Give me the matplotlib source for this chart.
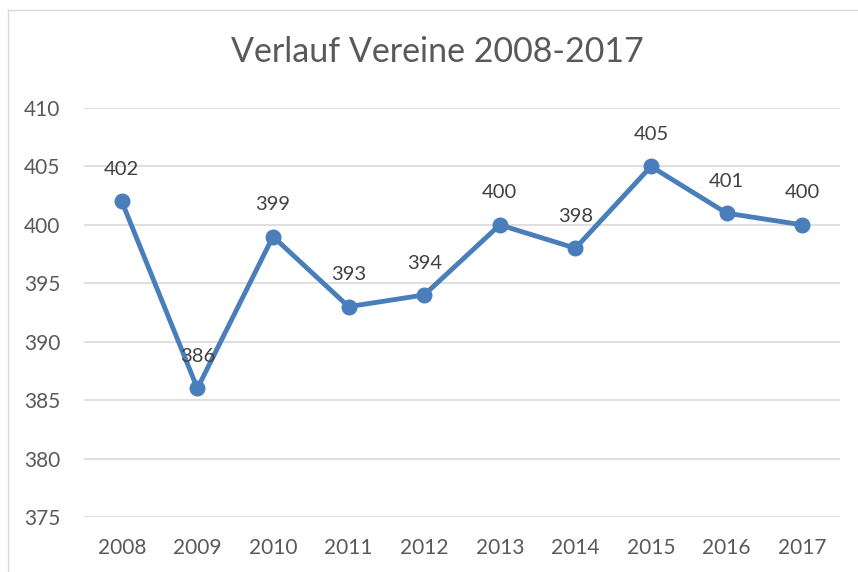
import matplotlib.pyplot as plt
from matplotlib.lines import Line2D

years = ["2008", "2009", "2010", "2011", "2012", "2013", "2014", "2015", "2016", "2017"]
values = [402, 386, 399, 393, 394, 400, 398, 405, 401, 400]
yticks = [375, 380, 385, 390, 395, 400, 405, 410]
title = "Verlauf Vereine 2008-2017"

plt.rcParams['font.family'] = ['Lato', 'DejaVu Sans']
W, H = 858, 572
fig = plt.figure(figsize=(W / 100, H / 100), dpi=100)
text_col = "#595959"
line_col = "#4A7EBB"

ax = fig.add_axes([84 / W, 1 - 517 / H, (840 - 84) / W, (517 - 108) / H])
x = list(range(len(years)))
ax.plot(x, values, color=line_col, lw=3.5, marker='o', markersize=10.5,
        solid_joinstyle='round', solid_capstyle='round', zorder=3)
for xi, v in zip(x, values):
    ax.annotate(str(v), (xi, v), xytext=(0, 23), textcoords='offset points',
                ha='center', va='center', fontsize=14.5, color="#404040", zorder=4)

ax.set_xlim(-0.5, len(years) - 0.5)
ax.set_ylim(375, 410)
ax.set_yticks(yticks)
ax.set_yticklabels([str(t) for t in yticks])
ax.set_xticks(x)
ax.set_xticklabels(years)
ax.tick_params(axis='both', length=0, labelsize=15, labelcolor=text_col)
ax.tick_params(axis='y', pad=17)
ax.tick_params(axis='x', pad=15)
ax.grid(axis='y', color="#D9D9D9", lw=1.2)
ax.set_axisbelow(True)
for s in ax.spines.values():
    s.set_visible(False)

fig.text(437 / W, 1 - 52 / H, title, ha='center', va='center', fontsize=24.5, color=text_col)

# chart border (left and top visible)
fig.add_artist(Line2D([7.5 / W, 7.5 / W], [0, 1 - 9.5 / H], transform=fig.transFigure, color="#D9D9D9", lw=1))
fig.add_artist(Line2D([7.5 / W, 1], [1 - 9.5 / H, 1 - 9.5 / H], transform=fig.transFigure, color="#D9D9D9", lw=1))

fig.savefig("out.png", dpi=100)
